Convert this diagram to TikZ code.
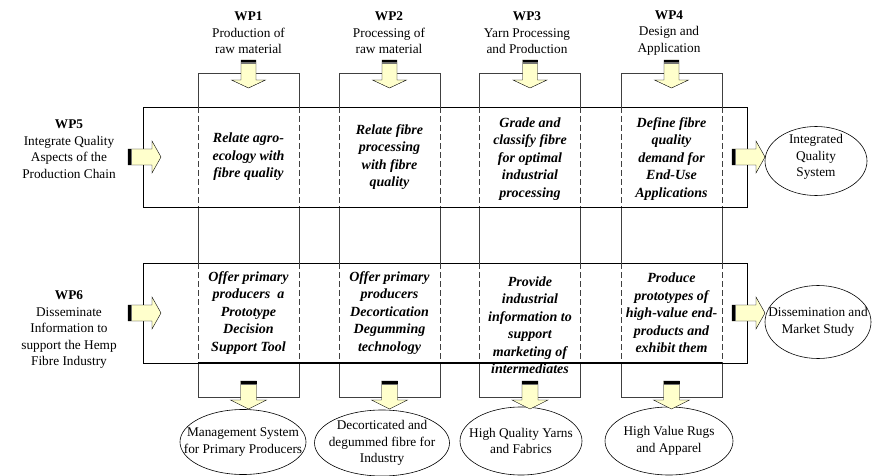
\documentclass[tikz,border=0pt]{standalone}
\usepackage{fontspec}
\setmainfont{Liberation Serif}
\usetikzlibrary{shapes.geometric, positioning, calc}
\definecolor{arrowyellow}{HTML}{FFFFCC}
\definecolor{edgegray}{HTML}{404040}

\tikzset{
  colbox/.style={draw=edgegray, line width=0.8pt, minimum width=101pt, minimum height=324pt, inner sep=0pt, outer sep=0pt},
  band/.style={draw=black, fill=white, line width=0.6pt, minimum width=604pt, minimum height=100pt, inner sep=0pt, outer sep=0pt},
  inband/.style={edgegray, line width=0.6pt, dash pattern=on 6pt off 3pt},
  task/.style={font=\fontsize{14}{17.5}\selectfont\bfseries\itshape, align=center, inner sep=0pt},
  wplabel/.style={font=\fontsize{13.3}{16.5}\selectfont, align=center, inner sep=0pt},
  outcome/.style={ellipse, draw=black, line width=0.6pt, inner sep=0pt, outer sep=0pt},
  outtext/.style={font=\fontsize{13.3}{16.5}\selectfont, align=center, inner sep=0pt},
  arrowbody/.style={fill=arrowyellow, draw=black, line width=0.4pt},
  pics/fatarrow/.style n args={4}{code={
    \filldraw[arrowbody] (0,0) -- (-#4,-#3) -- (-#4,-#2) -- (-#1,-#2) -- (-#1,#2) -- (-#4,#2) -- (-#4,#3) -- cycle;
    \fill[black] (-#1,-#2) rectangle ({-#1+2.5},#2);
    \fill[black!55] ({-#1+2.5},-#2) rectangle ({-#1+4},#2);
  }},
}

\begin{document}
\begin{tikzpicture}[x=1pt, y=-1pt]
  \useasboundingbox (0,0) rectangle (881,476);

  % work package columns
  \node[colbox] (c1) at (248.5,235) {};
  \node[colbox] (c2) at (389.5,235) {};
  \node[colbox] (c3) at (530,235) {};
  \node[colbox] (c4) at (671.5,235) {};

  % horizontal bands WP5 and WP6
  \node[band] (b1) at (445,157) {};
  \node[band] (b2) at (445,313) {};

  % column edges run dashed through the bands
  \foreach \c in {c1,c2,c3,c4}
    \foreach \b in {b1,b2} {
      \draw[inband] (\c.west |- \b.north) -- (\c.west |- \b.south);
      \draw[inband] (\c.east |- \b.north) -- (\c.east |- \b.south);
    }
  \draw[line width=1.5pt] (c1.west |- b2.south) -- (c4.east |- b2.south);

  % column headings
  \node[wplabel] (wp1) at (248.5,33) {\textbf{WP1}\\Production of\\raw material};
  \node[wplabel] (wp2) at (389,33) {\textbf{WP2}\\Processing of\\raw material};
  \node[wplabel] (wp3) at (527,33) {\textbf{WP3}\\Yarn Processing\\and Production};
  \node[wplabel] (wp4) at (669,33) {\textbf{WP4}\\Design and\\Application};

  % row headings
  \node[wplabel] (wp5) at (69,149) {\textbf{WP5}\\Integrate Quality\\Aspects of the\\Production Chain};
  \node[wplabel] (wp6) at (69,330) {\textbf{WP6}\\Disseminate\\Information to\\support the Hemp\\Fibre Industry};

  % tasks in band WP5
  \node[task] (t11) at (c1 |- b1) {Relate agro-\\ecology with\\fibre quality};
  \node[task] (t21) at (c2 |- b1) {Relate fibre\\processing\\with fibre\\quality};
  \node[task] (t31) at ($(c3 |- b1)+(0,2)$) {Grade and\\classify fibre\\for optimal\\industrial\\processing};
  \node[task] (t41) at ($(c4 |- b1)+(0,2)$) {Define fibre\\quality\\demand for\\End-Use\\Applications};

  % tasks in band WP6
  \node[task] (t12) at (c1 |- b2) {Offer primary\\producers\ \ a\\Prototype\\Decision\\Support Tool};
  \node[task] (t22) at (c2 |- b2) {Offer primary\\producers\\Decortication\\Degumming\\technology};
  \node[task] (t32) at ($(c3 |- b2)+(0,12)$) {Provide\\industrial\\information to\\support\\marketing of\\intermediates};
  \node[task] (t42) at (c4 |- b2) {Produce\\prototypes of\\high-value end-\\products and\\exhibit them};

  % outcomes
  \node[outcome, minimum width=102pt, minimum height=69pt] (iqs) at (816,161) {};
  \node[outtext] (iqstext) at (816,157) {Integrated\\Quality\\System};
  \node[outcome, minimum width=106pt, minimum height=73pt] (dms) at (818,322) {};
  \node[outtext] (dmstext) at (dms) {Dissemination and\\Market Study};
  \node[outcome, minimum width=126pt, minimum height=65pt] (o1) at (243,442) {};
  \node[outtext] (o1text) at (o1) {Management System\\for Primary Producers};
  \node[outcome, minimum width=135pt, minimum height=66pt] (o2) at (382,443) {};
  \node[outtext] (o2text) at (o2) {Decorticated and\\degummed fibre for\\Industry};
  \node[outcome, minimum width=122pt, minimum height=68pt] (o3) at (521,441) {};
  \node[outtext] (o3text) at (o3) {High Quality Yarns\\and Fabrics};
  \node[outcome, minimum width=128pt, minimum height=68pt] (o4) at (669,441) {};
  \node[outtext] (o4text) at (o4) {High Value Rugs\\and Apparel};

  % block arrows into the columns
  \pic[rotate=-90] at ($(c1.north)+(0,15)$) {fatarrow={28}{7.5}{17}{8}};
  \pic[rotate=-90] at ($(c2.north)+(0,15)$) {fatarrow={28}{7.5}{17}{8}};
  \pic[rotate=-90] at ($(c3.north)+(0,15)$) {fatarrow={28}{7.5}{17}{8}};
  \pic[rotate=-90] at ($(c4.north)+(0,15)$) {fatarrow={28}{7.5}{17}{8}};

  % block arrows into the bands
  \pic at ($(b1.west)+(18,0)$) {fatarrow={33}{8}{16}{9}};
  \pic at ($(b2.west)+(18,0)$) {fatarrow={33}{8}{16}{9}};

  % block arrows to the outcomes
  \pic at (b1.east -| iqs.west) {fatarrow={33}{8}{16}{9}};
  \pic at (b2.east -| dms.west) {fatarrow={33}{8}{16}{9}};
  \pic[rotate=-90] at ($(c1.south)+(0,12)$) {fatarrow={28}{8}{18}{9}};
  \pic[rotate=-90] at ($(c2.south)+(0,12)$) {fatarrow={28}{8}{18}{9}};
  \pic[rotate=-90] at ($(c3.south)+(0,12)$) {fatarrow={28}{8}{18}{9}};
  \pic[rotate=-90] at ($(c4.south)+(0,12)$) {fatarrow={28}{8}{18}{9}};
\end{tikzpicture}
\end{document}
